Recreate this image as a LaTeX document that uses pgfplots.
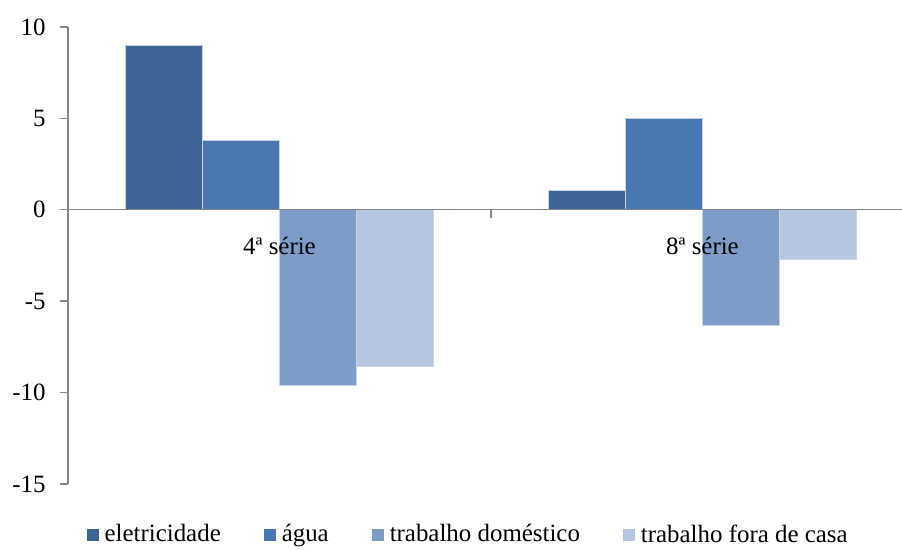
\documentclass[border=0pt]{standalone}
\usepackage{pgfplots}
\pgfplotsset{compat=1.18}
\usepackage{fontspec}
\setmainfont{Liberation Serif}
\definecolor{cA}{HTML}{3C6494}
\definecolor{cB}{HTML}{4877B1}
\definecolor{cC}{HTML}{7E9CC8}
\definecolor{cD}{HTML}{B6C5E0}
\definecolor{axgray}{HTML}{868686}
\definecolor{edge}{HTML}{C6D4E8}
\begin{document}
\fontsize{25}{29}\selectfont
\begin{tikzpicture}
\useasboundingbox (0,0) rectangle (902bp,550bp);
\begin{axis}[
  at={(68bp,66bp)}, anchor=south west,
  scale only axis, width=846bp, height=457bp,
  xmin=-0.5, xmax=1.5, ymin=-15, ymax=10,
  ybar=0pt, bar width=0.182,
  axis on top,
  axis y line=left, axis x line=middle,
  axis line style={-, draw=axgray, line width=1.4bp},
  ytick={-15,-10,-5,0,5,10},
  yticklabels={-15,-10,-5,0,5,10},
  y tick style={draw=axgray, line width=1.4bp},
  tick align=outside, major tick length=8bp,
  xtick={0.5}, xticklabels={},
  x tick style={draw=axgray, line width=1.2bp},
  extra x ticks={0,1},
  extra x tick labels={4ª série,8ª série},
  extra x tick style={major tick length=0pt, tick style={draw=none}, xticklabel style={yshift=-19bp}},
  yticklabel style={xshift=-6bp},
  ticklabel style={font=\fontsize{25}{29}\selectfont, text=black},
  every axis plot/.append style={draw=edge, line width=0.6bp},
  legend columns=4,
  legend style={at={(0.473,-0.112)}, anchor=center, draw=none, fill=none,
    font=\fontsize{25}{29}\selectfont,
    /tikz/every odd column/.append style={column sep=4bp},
    /tikz/every even column/.append style={column sep=41bp}},
  legend image code/.code={\fill[#1, draw=none] (0bp,-6bp) rectangle (12bp,6bp);},
]
\addplot[fill=cA] coordinates {(0,9.0) (1,1.05)};
\addplot[fill=cB] coordinates {(0,3.8) (1,5.0)};
\addplot[fill=cC] coordinates {(0,-9.6) (1,-6.3)};
\addplot[fill=cD] coordinates {(0,-8.55) (1,-2.7)};
\legend{eletricidade, água, trabalho doméstico, trabalho fora de casa}
\end{axis}
\end{tikzpicture}
\end{document}
